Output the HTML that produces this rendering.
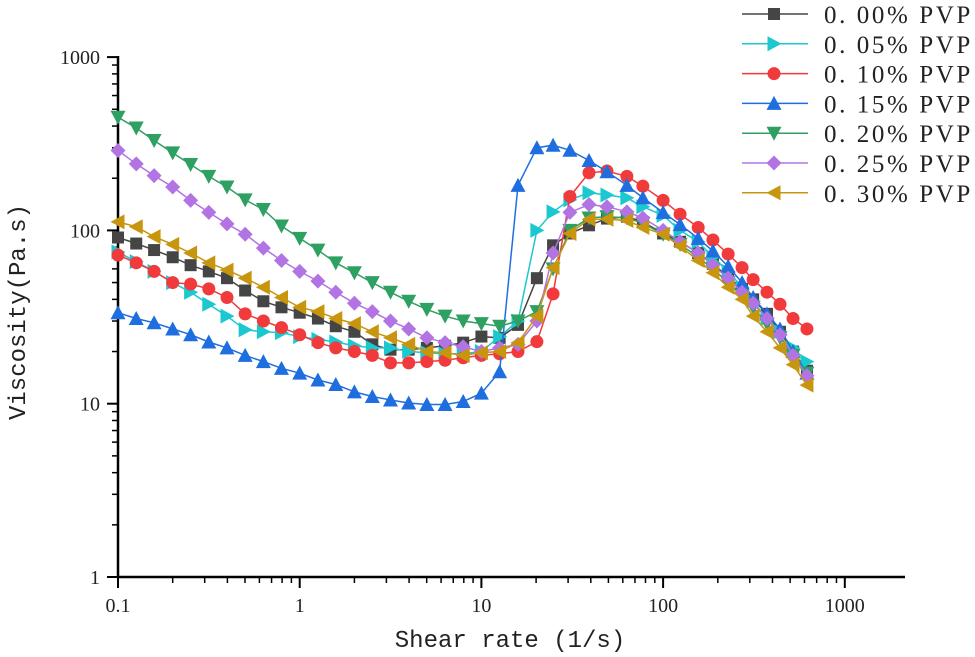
<!DOCTYPE html>
<html><head><meta charset="utf-8"><style>
html,body{margin:0;padding:0;background:#fff;width:975px;height:657px;overflow:hidden}
svg{display:block}
text{font-family:"Liberation Serif","Noto Serif CJK SC",serif;fill:#222}
text.mono{font-family:"Liberation Mono","Noto Sans CJK SC",monospace}
</style></head><body>
<svg id="chart" width="975" height="657" viewBox="0 0 975 657"></svg>
<script>
const rates=[0.1,0.126,0.158,0.2,0.251,0.316,0.398,0.501,0.631,0.794,1,1.26,1.58,2,2.51,3.16,3.98,5.01,6.31,7.94,10,12.6,15.9,20.2,24.8,30.7,39.1,49.1,63.2,77.4,100,124,156,188,228,272,313,373,440,519,619];
const seriesNames=["0.00% PVP","0.05% PVP","0.10% PVP","0.15% PVP","0.20% PVP","0.25% PVP","0.30% PVP"];
const v000=[91,84,77,70,63,58,53,45,39,36,33.5,31,28,26,22,20.5,20.5,21,21.6,22.5,24.4,24,28.5,53,82,96,107,117,120,112,96,86,74,64,54,46,40,33,26,20,15.5];
const v005=[75,66,58,50,44,37.5,32,26.7,26,25.7,24.4,23.5,22.7,21.6,21,21,20,19.7,19.4,19.4,20,24.4,30,100,128,150,165,160,154,137,122,100,86,70,58,47,39,31,26,21,17.5];
const v010=[72,65,58,50,49,46,41,33,30,27.5,25,22.5,21,20,19,17.2,17.2,17.5,17.8,18.4,19,19.4,20,22.8,43,157,215,220,205,180,149,124,104,88,73,61,52,44,37.5,31,27];
const v015=[33.5,31,29.3,27,25,22.7,21,19,17.5,16,15,13.7,12.9,11.7,11,10.5,10.1,9.9,9.9,10.3,11.5,15.3,182,300,310,290,253,218,182,154,127,108,90,76,62,50,41,33,27,20,15];
const v020=[450,390,330,280,240,205,178,150,132,106,90,77,65,57,50,44,39,35,32,30,29,28,30,34,60,100,118,120,118,110,95,83,70,60,50,42,36,29,24,19,15];
const v025=[289,242,207,178,149,127,109,95,79,67,58,51,44,38,34,30,27,24,22.5,21.3,20,21,22,30,74,127,141,137,128,118,100,86,74,63,53,44,38,31,25,19,14.5];
const v030=[112,105,92,83,74,65,59,53,47,41,36,34,31,29,26,24,22,20,19.7,19,19.7,20,22.5,32,61,96,116,116,114,104,95,81,67,57,47,40,32,26,21,16.8,12.8];
const allSeries=[v000,v005,v010,v015,v020,v025,v030];
const xTicks=[0.1,1,10,100,1000];
const xTickLabels=["0.1","1","10","100","1000"];
const yTicks=[1,10,100,1000];
const yTickLabels=["1","10","100","1000"];

const colors=["#454545","#1cc8d0","#f03a3c","#1f6ee0","#2ea062","#b274e2","#c8960e"];
const shapes=["square","tri-right","circle","tri-up","tri-down","diamond","tri-left"];
const X0=118,XD=181.7,Y0=577,YD=173.3;
const xs=v=>X0+(Math.log10(v)+1)*XD;
const ys=v=>Y0-Math.log10(v)*YD;
const NS="http://www.w3.org/2000/svg";
const svg=document.getElementById('chart');
function mk(tag,attrs,parent){const e=document.createElementNS(NS,tag);for(const k in attrs)e.setAttribute(k,attrs[k]);(parent||svg).appendChild(e);return e;}

const axes=mk('g',{});


const xl=mk('line',{x1:117,y1:Y0,x2:905,y2:Y0,stroke:'#000','stroke-width':2.5},axes);


const yl=mk('line',{x1:X0,y1:56,x2:X0,y2:578,stroke:'#000','stroke-width':2.5},axes);


for(let d=-1;d<3;d++){for(let m=2;m<=9;m++){const x=xs(m*Math.pow(10,d));mk('line',{x1:x,y1:Y0,x2:x,y2:Y0+6,stroke:'#000','stroke-width':1.5},axes);}}
for(let d=0;d<3;d++){for(let m=2;m<=9;m++){const y=ys(m*Math.pow(10,d));mk('line',{x1:X0,y1:y,x2:X0-6,y2:y,stroke:'#000','stroke-width':1.5},axes);}}
xTicks.forEach((t,i)=>{const x=xs(t);mk('line',{x1:x,y1:Y0,x2:x,y2:Y0+11,stroke:'#000','stroke-width':2},axes);
 const tx=mk('text',{x:x,y:Y0+35,'text-anchor':'middle','font-size':20},axes);tx.textContent=xTickLabels[i];
 
 });
yTicks.forEach((t,i)=>{const y=ys(t);mk('line',{x1:X0,y1:y,x2:X0-11,y2:y,stroke:'#000','stroke-width':2},axes);
 const tx=mk('text',{x:X0-18,y:y+7,'text-anchor':'end','font-size':20},axes);tx.textContent=yTickLabels[i];
 
 });
const xt=mk('text',{x:510,y:647,'text-anchor':'middle','font-size':24,'class':'mono'});
xt.textContent='Shear rate (1/s)';


const yt=mk('text',{x:0,y:0,'text-anchor':'middle','font-size':24,'class':'mono',transform:'translate(25,312) rotate(-90)'});
yt.textContent='Viscosity(Pa.s)';



function marker(shape,x,y,c,g,s){
 s=s||6.5;
 let e;
 if(shape==='square')e=mk('rect',{x:x-s+0.5,y:y-s+0.5,width:2*s-1,height:2*s-1,fill:c},g);
 else if(shape==='circle')e=mk('circle',{cx:x,cy:y,r:s,fill:c},g);
 else if(shape==='diamond')e=mk('polygon',{points:`${x},${y-s-1} ${x+s+1},${y} ${x},${y+s+1} ${x-s-1},${y}`,fill:c},g);
 else if(shape==='tri-up')e=mk('polygon',{points:`${x},${y-s-1} ${x+s+1},${y+s} ${x-s-1},${y+s}`,fill:c},g);
 else if(shape==='tri-down')e=mk('polygon',{points:`${x},${y+s+1} ${x+s+1},${y-s} ${x-s-1},${y-s}`,fill:c},g);
 else if(shape==='tri-right')e=mk('polygon',{points:`${x+s+1},${y} ${x-s},${y-s-1} ${x-s},${y+s+1}`,fill:c},g);
 else e=mk('polygon',{points:`${x-s-1},${y} ${x+s},${y-s-1} ${x+s},${y+s+1}`,fill:c},g);
 return e;
}
[0,1,2,3,4,5,6].forEach(si=>{
 const vals=allSeries[si],c=colors[si];
 const g=mk('g',{});
 
 
 const pts=vals.map((v,i)=>xs(rates[i]).toFixed(1)+','+ys(v).toFixed(1)).join(' ');
 const pl=mk('polyline',{points:pts,fill:'none',stroke:c,'stroke-width':1.5},g);
 
 
 vals.forEach((v,i)=>{const m=marker(shapes[si],xs(rates[i]),ys(v),c,g);
  
  });
});
const lg=mk('g',{});


seriesNames.forEach((n,i)=>{
 const y=14+29.8*i;
 const e=mk('g',{},lg);
 
 
 mk('line',{x1:742,y1:y,x2:808,y2:y,stroke:colors[i],'stroke-width':1.5},e);
 marker(shapes[i],774,y,colors[i],e,6.5);
 const t=mk('text',{x:824,y:y+9,'font-size':25,'letter-spacing':'2.6'},e);
 t.textContent=n.replace('.','. ');
 
 
});
</script>
</body></html>
